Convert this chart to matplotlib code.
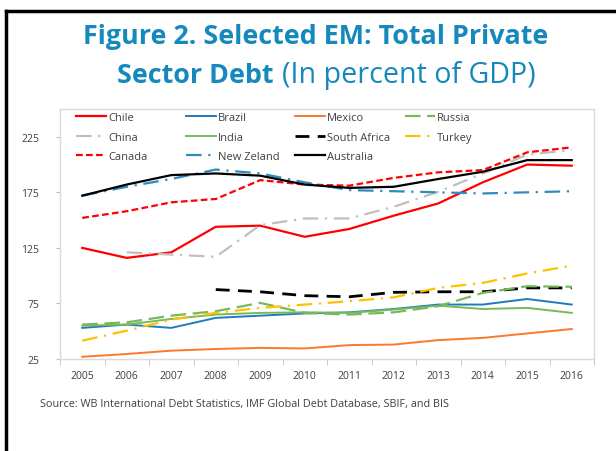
import matplotlib.pyplot as plt
from matplotlib.lines import Line2D
from matplotlib.legend import Legend
import numpy as np

# data (percent of GDP)
years = list(range(2005, 2017))
chile = [125, 116, 121, 144, 145, 135, 142, 154, 165, 184, 200, 199]
brazil = [53, 56, 53, 62, 64, 66, 67, 70, 74, 74, 79, 74]
mexico = [27, 29.5, 32.5, 34, 35, 34.5, 37.5, 38, 42, 44, 48, 52]
russia = [56, 58, 64, 68, 75.5, 66.5, 65, 67, 72.5, 84.5, 90.5, 90]
china = [np.nan, 121, 119, 117, 145.5, 151.5, 151.5, 162, 175.5, 192, 209, 213]
india = [55, 56, 61, 65, 66.5, 67, 66.5, 69.5, 73, 70, 71, 66.5]
south_africa = [np.nan, np.nan, np.nan, 87.5, 85.5, 82, 81, 85, 85.5, 85.5, 89, 89]
turkey = [41.5, 50.5, 60.5, 66.5, 71, 74, 77, 80.5, 89, 93.5, 102, 109]
canada = [152, 158, 166, 169, 186, 182, 181, 188, 193, 195, 211, 215.5]
new_zealand = [172, 180, 187, 195.5, 192, 184, 177, 176, 175, 174, 175, 176]
australia = [172, 182, 190.5, 192, 190, 182, 179, 180, 187, 193.5, 204, 204]

title_color = '#1589BB'
plt.rcParams['font.family'] = ['Open Sans', 'DejaVu Sans']

fig = plt.figure(figsize=(6.16, 4.52), dpi=100)
ax = fig.add_axes([60 / 616, 1 - 360 / 452, 534 / 616, 250 / 452])

# (label, values, color, linewidth, dashes), grouped by legend column
columns = [
    [('Chile', chile, '#FF0000', 1.6, None),
     ('China', china, '#BFBFBF', 1.6, (7, 3, 1, 3)),
     ('Canada', canada, '#FF0000', 1.6, (3, 1.5))],
    [('Brazil', brazil, '#1F7BBE', 1.4, None),
     ('India', india, '#77B95A', 1.4, None),
     ('New Zeland', new_zealand, '#2E8BC0', 1.6, (7, 3, 1, 3))],
    [('Mexico', mexico, '#F97A2C', 1.4, None),
     ('South Africa', south_africa, '#000000', 2.0, (5, 3)),
     ('Australia', australia, '#000000', 1.6, None)],
    [('Russia', russia, '#77B95A', 1.6, (7, 3)),
     ('Turkey', turkey, '#FFC000', 1.6, (7, 3, 1, 3))],
]
col_x = [0.0243, 0.2303, 0.4345, 0.6404]

for col, x0 in zip(columns, col_x):
    handles = []
    for label, vals, color, lw, dashes in col:
        line, = ax.plot(years, vals, color=color, lw=lw, label=label)
        if dashes:
            line.set_dashes(dashes)
        handles.append(line)
    leg = Legend(ax, handles, [h.get_label() for h in handles], loc='upper left',
                 bbox_to_anchor=(x0, 1.0), frameon=False, fontsize=8, handlelength=2.7,
                 handletextpad=0.18, labelspacing=0.75, borderpad=0, borderaxespad=0.3)
    for t in leg.get_texts():
        t.set_color('#404040')
    ax.add_artist(leg)

ax.set_xlim(2004.5, 2016.5)
ax.set_ylim(25, 250)
ax.set_yticks([25, 75, 125, 175, 225])
ax.set_xticks(years)
ax.set_xticks(np.arange(2004.5, 2017, 1), minor=True)
ax.tick_params(axis='x', which='major', length=0, pad=8, labelsize=7.5, labelcolor='#404040')
ax.tick_params(axis='x', which='minor', length=4, color='#BFBFBF')
ax.tick_params(axis='y', length=3, color='#BFBFBF', labelsize=7.5, labelcolor='#404040', pad=12)
for s in ax.spines.values():
    s.set_color('#D9D9D9')
    s.set_linewidth(1)

# title, two lines, second one partly bold
fig.text(83 / 616, 1 - 37 / 452, 'Figure 2. Selected EM: Total Private', ha='left', va='center',
         fontsize=19.4, fontweight='bold', color=title_color)
t1 = fig.text(117 / 616, 1 - 76 / 452, 'Sector Debt', ha='left', va='center',
              fontsize=19.4, fontweight='bold', color=title_color)
fig.canvas.draw()
bb = t1.get_window_extent()
fig.text((bb.x1 + 9) / fig.bbox.width, 1 - 76 / 452, '(In percent of GDP)', ha='left', va='center',
         fontsize=20.6, color=title_color)

fig.text(40 / 616, 1 - 405 / 452, 'Source: WB International Debt Statistics, IMF Global Debt Database, SBIF, and BIS',
         fontsize=7.8, color='#404040', va='center')

# black frame lines on left and top
fig.add_artist(Line2D([6 / 616, 6 / 616], [0, 1 - 12 / 452], color='black', lw=2.5))
fig.add_artist(Line2D([6 / 616, 1], [1 - 12 / 452, 1 - 12 / 452], color='black', lw=2.5))

fig.savefig('out.png', dpi=100)
